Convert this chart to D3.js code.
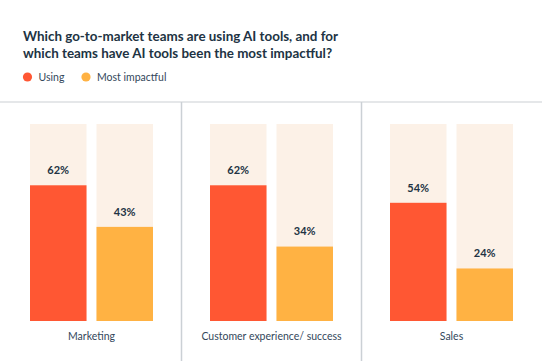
<!DOCTYPE html>
<html>
<head>
<meta charset="utf-8">
<script src="https://cdn.jsdelivr.net/npm/d3@7"></script>
<style>
  body { margin: 0; background: #fff; }
  svg { display: block; font-family: "Lato", "Noto Sans", sans-serif; }
</style>
</head>
<body>
<svg id="chart" width="542" height="361"></svg>
<script>
// data
var teams = ["Marketing", "Customer experience/ success", "Sales"];
var seriesNames = ["Using", "Most impactful"];
var usingValues = [62, 62, 54];
var impactValues = [43, 34, 24];
var seriesColors = ["#ff5733", "#ffb243"];

var w = 542, h = 361;
var svg = d3.select("#chart");

// title
var title = svg.append("g").attr("transform", "translate(23,0)");
title.append("text").attr("x", 0).attr("y", 40.5)
    .text("Which go-to-market teams are using AI tools, and for");
title.append("text").attr("x", 0).attr("y", 58)
    .text("which teams have AI tools been the most impactful?");
title.selectAll("text")
    .style("font-size", "13.4px")
    .style("font-weight", "bold")
    .attr("fill", "#213343");

// legend
var legendX = [27.5, 86];
var legend = svg.selectAll("g.legend")
    .data(seriesNames)
    .enter()
    .append("g")
      .attr("class", "legend")
      .attr("transform", function(d, i) { return "translate(" + legendX[i] + ",77)"; });
legend.append("circle")
    .attr("r", 4.6)
    .attr("fill", function(d, i) { return seriesColors[i]; });
legend.append("text")
    .attr("x", 11)
    .attr("dy", "0.35em")
    .style("font-size", "10.5px")
    .attr("fill", "#33475b")
    .text(function(d) { return d; });

// frame lines
var frameTop = 102;
svg.append("line")
    .attr("x1", 0).attr("x2", w)
    .attr("y1", frameTop).attr("y2", frameTop)
    .attr("stroke", "#dcdfe2").attr("stroke-width", 1.5);

// scales
var x0 = d3.scaleBand().domain(teams).range([1.5, 541.5]);
var x1 = d3.scaleBand().domain(seriesNames).range([28.5, 151.5]).paddingInner(0.15);
var y = d3.scaleLinear().domain([0, 90]).range([321, 124]);

teams.slice(1).forEach(function(t) {
    svg.append("line")
        .attr("x1", x0(t)).attr("x2", x0(t))
        .attr("y1", frameTop).attr("y2", h)
        .attr("stroke", "#cbd0d5").attr("stroke-width", 1.5);
});

var rows = teams.map(function(t, i) {
    return { team: t, values: [usingValues[i], impactValues[i]] };
});

var panel = svg.selectAll("g.panel")
    .data(rows)
    .enter()
    .append("g")
      .attr("class", "panel")
      .attr("transform", function(d) { return "translate(" + x0(d.team) + ",0)"; });

var bars = panel.selectAll("g.bar")
    .data(function(d) {
        return d.values.map(function(v, i) { return { key: seriesNames[i], value: v, i: i }; });
    })
    .enter()
    .append("g")
      .attr("class", "bar");

// background track
bars.append("rect")
    .attr("x", function(d) { return x1(d.key); })
    .attr("y", y(90))
    .attr("width", x1.bandwidth())
    .attr("height", y(0) - y(90))
    .attr("fill", "#fcf1e7");

bars.append("rect")
    .attr("x", function(d) { return x1(d.key); })
    .attr("y", function(d) { return y(d.value); })
    .attr("width", x1.bandwidth())
    .attr("height", function(d) { return y(0) - y(d.value); })
    .attr("fill", function(d) { return seriesColors[d.i]; });

bars.append("text")
    .attr("x", function(d) { return x1(d.key) + x1.bandwidth() / 2; })
    .attr("y", function(d) { return y(d.value) - 15; })
    .attr("dy", "0.35em")
    .attr("text-anchor", "middle")
    .style("font-size", "11px")
    .style("font-weight", "bold")
    .attr("fill", "#213343")
    .text(function(d) { return d.value + "%"; });

panel.append("text")
    .attr("x", x0.bandwidth() / 2)
    .attr("y", 336)
    .attr("dy", "0.35em")
    .attr("text-anchor", "middle")
    .style("font-size", "10.5px")
    .attr("fill", "#33475b")
    .text(function(d) { return d.team; });
</script>
</body>
</html>
